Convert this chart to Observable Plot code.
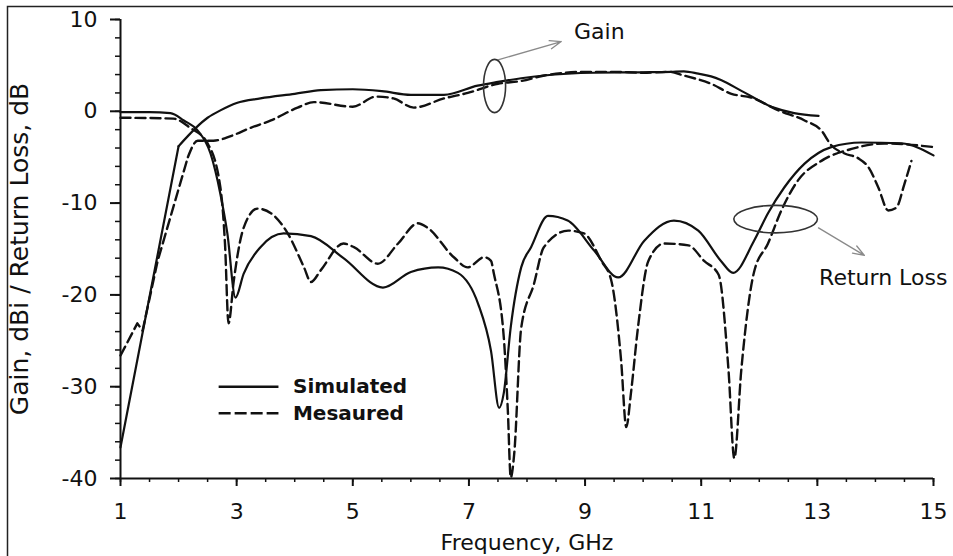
<!DOCTYPE html>
<html>
<head>
<meta charset="utf-8">
<script src="https://cdn.jsdelivr.net/npm/d3@7"></script>
<script src="https://cdn.jsdelivr.net/npm/@observablehq/plot@0.6"></script>
<style>
  body { margin: 0; background: #fff; }
  #chart { position: relative; width: 953px; height: 556px; }
</style>
</head>
<body>
<div id="chart"></div>
<script>
// Antenna gain (dBi) and return loss (dB) versus frequency (GHz)
const gainSimFreq = [1.0, 2.0, 2.5, 2.72, 3.0, 3.41, 4.0, 4.45, 5.0, 5.5, 6.0, 6.57, 7.15, 7.5, 7.9, 8.29, 9.16, 10.0, 10.48, 10.7, 10.95, 11.17, 11.34, 11.7, 12.25, 12.6, 13.02];
const gainSim     = [-36.6, -3.8, -0.7, 0.1, 0.9, 1.4, 1.9, 2.3, 2.4, 2.2, 1.8, 1.8, 2.8, 3.2, 3.6, 3.9, 4.2, 4.25, 4.3, 4.35, 4.1, 3.8, 3.4, 2.2, 0.4, -0.2, -0.5];

const gainMeasFreq = [1.0, 1.29, 1.38, 1.64, 2.16, 2.33, 2.6, 2.9, 3.24, 3.59, 4.05, 4.33, 5.0, 5.4, 5.7, 6.05, 6.57, 6.98, 7.5, 7.9, 8.3, 9.0, 9.5, 10.0, 10.45, 10.7, 11.17, 11.52, 11.86, 12.33, 12.78, 13.07, 13.24, 13.47, 13.7, 13.88, 14.05, 14.22, 14.36, 14.5, 14.62];
const gainMeas     = [-26.6, -23.1, -23.9, -16.3, -5.0, -3.2, -3.2, -2.7, -1.8, -1.0, 0.4, 1.0, 0.5, 1.6, 1.4, 0.4, 1.4, 2.0, 3.0, 3.3, 3.9, 4.3, 4.3, 4.2, 4.3, 3.9, 3.0, 1.9, 1.5, 0.1, -1.0, -2.1, -3.7, -4.6, -5.1, -6.1, -8.3, -10.8, -10.5, -7.9, -5.4];

const rlSimFreq = [1.0, 1.5, 1.86, 2.09, 2.33, 2.55, 2.72, 2.84, 2.98, 3.12, 3.41, 3.81, 4.28, 4.84, 5.52, 6.0, 6.47, 6.81, 7.16, 7.38, 7.52, 7.6, 7.72, 7.9, 8.07, 8.36, 8.7, 9.16, 9.57, 10.02, 10.53, 10.95, 11.34, 11.55, 11.91, 12.15, 12.43, 12.78, 13.24, 13.76, 14.45, 15.0];
const rlSim     = [-0.1, -0.1, -0.2, -1.0, -2.1, -4.6, -9.0, -13.3, -20.3, -17.7, -14.8, -13.3, -13.6, -16.0, -19.2, -17.5, -17.0, -17.6, -21.0, -26.1, -32.3, -30.7, -23.5, -17.0, -14.8, -11.4, -11.9, -15.2, -18.1, -14.1, -11.9, -13.0, -16.3, -17.6, -14.1, -11.1, -8.3, -5.7, -3.9, -3.4, -3.5, -4.8];

const rlMeasFreq = [1.0, 1.91, 2.2, 2.5, 2.72, 2.8, 2.86, 2.95, 3.02, 3.12, 3.36, 3.59, 3.88, 4.16, 4.28, 4.45, 4.84, 5.02, 5.43, 5.78, 6.12, 6.29, 6.74, 6.98, 7.26, 7.38, 7.43, 7.6, 7.67, 7.72, 7.78, 7.9, 8.12, 8.29, 8.71, 8.98, 9.28, 9.45, 9.62, 9.71, 9.79, 9.91, 10.09, 10.36, 10.78, 11.05, 11.3, 11.47, 11.57, 11.69, 11.91, 12.15, 12.38, 12.67, 13.07, 13.59, 14.16, 15.0];
const rlMeas     = [-0.7, -0.8, -1.8, -3.5, -8.3, -14.5, -23.1, -18.5, -15.5, -12.7, -10.6, -11.1, -13.3, -17.0, -18.6, -17.3, -14.4, -14.8, -16.6, -14.4, -12.2, -12.7, -15.9, -17.0, -15.9, -16.3, -17.7, -24.6, -32.6, -39.9, -37.3, -23.6, -18.8, -14.8, -13.0, -13.3, -16.3, -18.4, -27.1, -34.4, -30.7, -23.6, -16.3, -14.4, -14.6, -16.3, -17.8, -28.2, -37.8, -28.2, -17.5, -14.4, -10.8, -7.5, -5.4, -4.1, -3.5, -3.9];

// Below this frequency the gain traces are straight sweeps
const gainSweepEnd = {sim: 2.0, meas: 2.16};

// Axis ticks
const xMajorTicks = [1, 3, 5, 7, 9, 11, 13, 15];
const xMinorTicks = d3.range(1, 15.01, 0.5);
const yMajorTicks = [-40, -30, -20, -10, 0, 10];
const yMinorTicks = d3.range(-40, 10.01, 2);

// Legend entries and callouts (in data units)
const legendSolid  = [{label: "Simulated", x1: 2.69, x2: 3.72, y: -30.0, tx: 3.97}];
const legendDashed = [{label: "Mesaured",  x1: 2.69, x2: 3.72, y: -32.9, tx: 3.97}];
const callouts = [
  {label: "Gain",        cx: 7.45,  cy: 2.7,   rx: 0.19, ry: 2.9, ax1: 7.5,   ay1: 5.6,   ax2: 8.59,  ay2: 7.6,   tx: 8.81,  ty: 8.6},
  {label: "Return Loss", cx: 12.29, cy: -11.8, rx: 0.72, ry: 1.5, ax1: 13.02, ay1: -12.7, ax2: 13.81, ay2: -15.7, tx: 13.03, ty: -18.2}
];

const rows = (f, v) => f.map((x, i) => ({freq: x, value: v[i]}));
const gainSimRows = rows(gainSimFreq, gainSim);
const gainMeasRows = rows(gainMeasFreq, gainMeas);
const font = "DejaVu Sans";
const ink = "#111";
const dash = "10,5";

const plot = Plot.plot({
  width: 953,
  height: 556,
  marginLeft: 120,
  marginRight: 20,
  marginTop: 19,
  marginBottom: 78,
  style: {fontFamily: font, fontSize: "22px", color: ink, background: "white", overflow: "visible"},
  x: {domain: [1, 15]},
  y: {domain: [-40, 10]},
  marks: [
    // minor and major ticks
    Plot.axisX(xMinorTicks, {tickSize: 4, tickFormat: () => "", label: null, strokeWidth: 1.5}),
    Plot.axisX(xMajorTicks, {tickSize: 8, tickPadding: 17, label: null, strokeWidth: 2, fontSize: 22, tickFormat: d => String(d)}),
    Plot.axisY(yMinorTicks, {tickSize: 5, tickFormat: () => "", label: null, strokeWidth: 1.5}),
    Plot.axisY(yMajorTicks, {tickSize: 10, tickPadding: 13, label: null, strokeWidth: 2, fontSize: 22, tickFormat: d => String(d)}),
    // axis lines
    Plot.ruleX([1], {y1: -40, y2: 10, stroke: ink, strokeWidth: 2}),
    Plot.ruleY([-40], {x1: 1, x2: 15, stroke: ink, strokeWidth: 2}),
    // axis titles
    Plot.text(["Frequency, GHz"], {frameAnchor: "bottom", dy: 64, textAnchor: "middle", lineAnchor: "middle", fontSize: 22, fill: ink}),
    Plot.text(["Gain, dBi / Return Loss, dB"], {frameAnchor: "left", dx: -101, rotate: -90, textAnchor: "middle", lineAnchor: "middle", fontSize: 25, fill: ink}),
    // return loss curves
    Plot.line(rows(rlSimFreq, rlSim), {x: "freq", y: "value", stroke: ink, strokeWidth: 2.2, curve: "monotone-x"}),
    Plot.line(rows(rlMeasFreq, rlMeas), {x: "freq", y: "value", stroke: ink, strokeWidth: 2.4, strokeDasharray: dash, curve: "monotone-x"}),
    // gain curves: straight low-frequency sweep, then smooth
    Plot.line(gainSimRows.filter(d => d.freq <= gainSweepEnd.sim), {x: "freq", y: "value", stroke: ink, strokeWidth: 2.2}),
    Plot.line(gainSimRows.filter(d => d.freq >= gainSweepEnd.sim), {x: "freq", y: "value", stroke: ink, strokeWidth: 2.2, curve: "monotone-x"}),
    Plot.line(gainMeasRows.filter(d => d.freq <= gainSweepEnd.meas), {x: "freq", y: "value", stroke: ink, strokeWidth: 2.4, strokeDasharray: dash}),
    Plot.line(gainMeasRows.filter(d => d.freq >= gainSweepEnd.meas), {x: "freq", y: "value", stroke: ink, strokeWidth: 2.4, strokeDasharray: dash, curve: "monotone-x"}),
    // callout arrows and labels
    Plot.arrow(callouts, {x1: "ax1", y1: "ay1", x2: "ax2", y2: "ay2", stroke: "#8a8a8a", strokeWidth: 1.3, headLength: 14, headAngle: 40}),
    Plot.text(callouts, {x: "tx", y: "ty", text: "label", textAnchor: "start", lineAnchor: "middle", fontSize: 22, fill: ink}),
    // legend
    Plot.link(legendSolid, {x1: "x1", x2: "x2", y1: "y", y2: "y", stroke: ink, strokeWidth: 2.6}),
    Plot.link(legendDashed, {x1: "x1", x2: "x2", y1: "y", y2: "y", stroke: ink, strokeWidth: 2.6, strokeDasharray: "12,4"}),
    Plot.text([...legendSolid, ...legendDashed], {x: "tx", y: "y", text: "label", textAnchor: "start", lineAnchor: "middle", fontSize: 20, fontWeight: "bold", fill: ink})
  ]
});

// callout ellipses, placed through the plot's scales
const sx = plot.scale("x"), sy = plot.scale("y");
const svg = d3.select(plot);
svg.selectAll("ellipse.callout")
  .data(callouts)
  .join("ellipse")
  .attr("class", "callout")
  .attr("cx", d => sx.apply(d.cx))
  .attr("cy", d => sy.apply(d.cy))
  .attr("rx", d => Math.abs(sx.apply(d.cx + d.rx) - sx.apply(d.cx)))
  .attr("ry", d => Math.abs(sy.apply(d.cy + d.ry) - sy.apply(d.cy)))
  .attr("fill", "none")
  .attr("stroke", "#333")
  .attr("stroke-width", 1.6);

// outer border of the figure
svg.append("rect")
  .attr("x", 7.5).attr("y", 6.5)
  .attr("width", 960).attr("height", 560)
  .attr("fill", "none")
  .attr("stroke", "#222")
  .attr("stroke-width", 1.5);

document.getElementById("chart").appendChild(plot);
</script>
</body>
</html>
